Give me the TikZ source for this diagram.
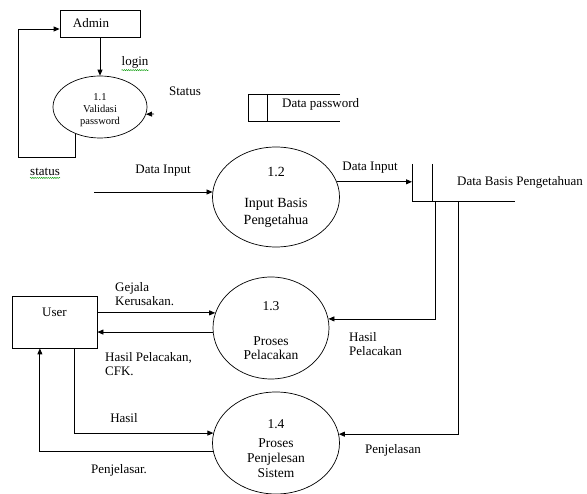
\documentclass[tikz,border=0pt]{standalone}
\usepackage{fontspec}
\setmainfont{Liberation Serif}
\usetikzlibrary{arrows.meta,shapes.geometric,decorations.pathmorphing}
\begin{document}
\begin{tikzpicture}[x=1pt,y=-1pt,
  every node/.style={font=\fontsize{13}{14}\selectfont, inner sep=0pt},
  arr/.style={-{Triangle[length=6pt,width=5pt]}, line width=0.8pt},
  ln/.style={line width=0.8pt},
  box/.style={draw, line width=0.8pt, rectangle},
  proc/.style={draw, ellipse, line width=0.7pt, inner sep=0pt},
  inner/.style={align=center, inner sep=0pt},
  lbl/.style={anchor=west, align=left},
  wavy/.style={green!60!black, line width=0.4pt, decorate,
    decoration={snake, amplitude=0.6pt, segment length=2.2pt}}]
\useasboundingbox (0,0) rectangle (587,494);

% external entities
\node[box, minimum width=80pt, minimum height=27pt,
      label={[inner, xshift=-9pt]center:Admin}] (admin) at (100,23.5) {};
\node[box, minimum width=85pt, minimum height=52pt,
      label={[inner, yshift=10pt]center:User}] (user) at (54.5,322) {};

% processes
\node[proc, minimum width=94pt, minimum height=62pt,
      label={[inner, yshift=-3.5pt, font=\fontsize{10.5}{12}\selectfont]center:1.1\\Validasi\\password}] (p11) at (100,107) {};
\node[proc, minimum width=127pt, minimum height=100pt,
      label={[inner, font=\fontsize{14}{17}\selectfont]center:1.2\\[14pt]Input Basis\\Pengetahua}] (p12) at (276,197) {};
\node[proc, minimum width=116pt, minimum height=102pt,
      label={[inner, yshift=-3pt, font=\fontsize{13.5}{14}\selectfont]center:1.3\\[21pt]Proses\\Pelacakan}] (p13) at (271,328) {};
\node[proc, minimum width=127pt, minimum height=102pt,
      label={[inner, yshift=-6pt, font=\fontsize{13.5}{15}\selectfont]center:1.4\\[4pt]Proses\\Penjelesan\\Sistem}] (p14) at (276,443) {};

% data stores
\draw[ln] (340,94) -- (248,94) -- (248,121) -- (340,121);
\draw[ln] (267,94) -- (267,121);
\node[anchor=west] (dpw) at (282,104) {Data password};

\draw[ln] (412,164) -- (412,201) -- (515,201);
\draw[ln] (432,164) -- (432,201);
\node[anchor=west] (dbp) at (457,182) {Data Basis Pengetahuan};
\coordinate (dbL) at (412,182);
\coordinate (db1) at (435,201);
\coordinate (db2) at (458,201);

% connectors
\draw[arr] (admin.south) -- (p11.north);
\coordinate (sa) at (154,114);
\draw[arr] (sa) -- (p11.-9);
\draw[arr] (p11.228) |- (18,157) |- ([yshift=-5.5pt]admin.west);

\coordinate (din) at (94,192);
\draw[arr] (din) -- (din -| p12.175);
\draw[arr] (p12.14) -- (p12.14 -| dbL);

\draw[arr] (user.12) -- (user.12 -| p13.165);
\draw[arr] (p13.184) -- (p13.184 -| user.east);
\draw[arr] (user.-53) |- (p14.171);
\draw[arr] (p14.188) -| (user.241);

\draw[arr] (db1) |- (p13.9);
\draw[arr] (db2) |- (p14.8);

% labels
\node (login) at (135,62) {login};
\draw[wavy] ([yshift=-2pt]login.south west) -- ([yshift=-2pt]login.south east);
\node (status1) at (185,91) {Status};
\node (status2) at (45,172) {status};
\draw[wavy] ([yshift=-2pt]status2.south west) -- ([yshift=-2pt]status2.south east);
\node (di1) at (163,171) {Data Input};
\node (di2) at (370,168) {Data Input};
\node[lbl] (gejala) at (115,294.5) {Gejala\\Kerusakan.};
\node[lbl] (hpc) at (105,364.5) {Hasil Pelacakan,\\CFK.};
\node (hasil) at (124,418) {Hasil};
\node (pjl1) at (119,470) {Penjelasar.};
\node[lbl] (hp2) at (349,344) {Hasil\\Pelacakan};
\node (pjl2) at (393,450) {Penjelasan};
\end{tikzpicture}
\end{document}
